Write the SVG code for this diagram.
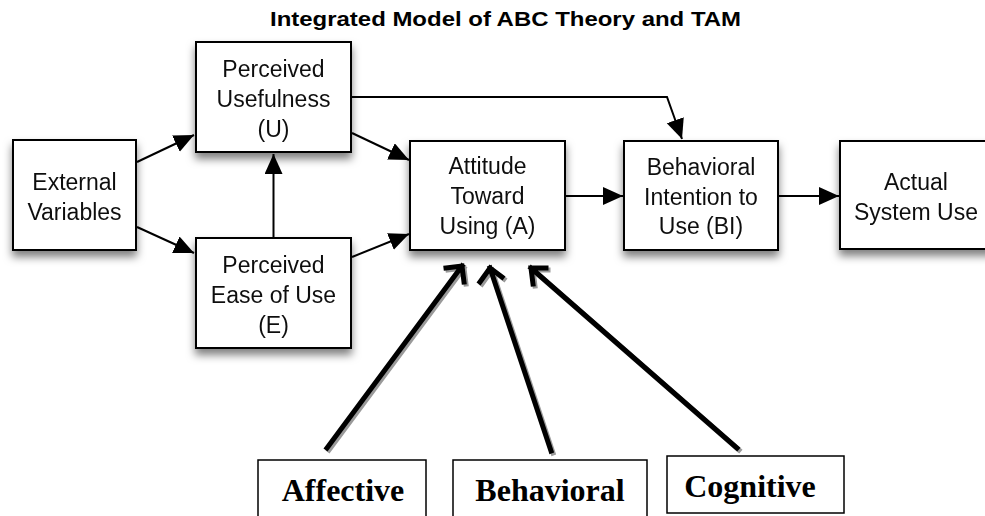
<svg xmlns="http://www.w3.org/2000/svg" width="985" height="516" viewBox="0 0 985 516">
  <style>
    .title { font-family: "Liberation Sans", Arial, sans-serif; font-weight: bold; font-size: 20px; fill: #000; }
    .box { fill: #fff; stroke: #000; stroke-width: 2; }
    .lbl { font-family: "Liberation Sans", Arial, Helvetica, sans-serif; font-size: 23px; fill: #111; text-anchor: middle; }
    .abc { fill: #fff; stroke: #000; stroke-width: 1.5; }
    .abc-lbl { font-family: "Liberation Serif", "Times New Roman", serif; font-weight: bold; font-size: 32px; fill: #000; text-anchor: middle; }
    .link { fill: none; stroke: #000; stroke-width: 2; marker-end: url(#tri); }
    .thick { fill: none; stroke: #000; stroke-width: 5; stroke-linecap: square; stroke-linejoin: miter; }
    .thick-shadow { fill: none; stroke: #9a9a9a; stroke-width: 5; stroke-linecap: square; stroke-linejoin: miter; }
  </style>
  <defs>
    <filter id="shadow" x="-20%" y="-20%" width="140%" height="160%">
      <feDropShadow dx="0" dy="6" stdDeviation="4.5" flood-color="#000" flood-opacity="0.5"/>
    </filter>
    <marker id="tri" markerUnits="userSpaceOnUse" markerWidth="22" markerHeight="20" refX="20" refY="9" orient="auto">
      <path d="M0,0 L20,9 L0,18 Z" fill="#000"/>
    </marker>
  </defs>

  <rect width="985" height="516" fill="#fff"/>

  <text class="title" x="270" y="26" textLength="471" lengthAdjust="spacingAndGlyphs">Integrated Model of ABC Theory and TAM</text>

  <!-- TAM constructs -->
  <g id="external-variables" filter="url(#shadow)">
    <rect class="box" x="13" y="140" width="123" height="110"/>
    <text class="lbl" x="74.5" y="190">External</text>
    <text class="lbl" x="74.5" y="220">Variables</text>
  </g>
  <g id="perceived-usefulness" filter="url(#shadow)">
    <rect class="box" x="196" y="42" width="155" height="110"/>
    <text class="lbl" x="273.5" y="77">Perceived</text>
    <text class="lbl" x="273.5" y="107">Usefulness</text>
    <text class="lbl" x="273.5" y="137">(U)</text>
  </g>
  <g id="perceived-ease-of-use" filter="url(#shadow)">
    <rect class="box" x="196" y="238" width="155" height="110"/>
    <text class="lbl" x="273.5" y="273">Perceived</text>
    <text class="lbl" x="273.5" y="303">Ease of Use</text>
    <text class="lbl" x="273.5" y="333">(E)</text>
  </g>
  <g id="attitude" filter="url(#shadow)">
    <rect class="box" x="410" y="141" width="155" height="109"/>
    <text class="lbl" x="487.5" y="174">Attitude</text>
    <text class="lbl" x="487.5" y="204">Toward</text>
    <text class="lbl" x="487.5" y="234">Using (A)</text>
  </g>
  <g id="behavioral-intention" filter="url(#shadow)">
    <rect class="box" x="624" y="141" width="154" height="109"/>
    <text class="lbl" x="701" y="175">Behavioral</text>
    <text class="lbl" x="701" y="205">Intention to</text>
    <text class="lbl" x="701" y="234">Use (BI)</text>
  </g>
  <g id="actual-system-use" filter="url(#shadow)">
    <rect class="box" x="840" y="141" width="160" height="108"/>
    <text class="lbl" x="916" y="190">Actual</text>
    <text class="lbl" x="916" y="220">System Use</text>
  </g>

  <!-- ABC components -->
  <g id="affective">
    <rect class="abc" x="258" y="460" width="168" height="60"/>
    <text class="abc-lbl" x="343" y="501">Affective</text>
  </g>
  <g id="behavioral">
    <rect class="abc" x="453" y="460" width="194" height="60"/>
    <text class="abc-lbl" x="550" y="501">Behavioral</text>
  </g>
  <g id="cognitive">
    <rect class="abc" x="667" y="456" width="177" height="57"/>
    <text class="abc-lbl" x="750" y="497">Cognitive</text>
  </g>

  <!-- connectors -->
  <g id="connectors">
    <line class="link" x1="137" y1="162" x2="194" y2="135"/>
    <line class="link" x1="137" y1="227" x2="194" y2="253"/>
    <line class="link" x1="273.5" y1="238" x2="273.5" y2="154"/>
    <line class="link" x1="352" y1="133" x2="409" y2="160"/>
    <line class="link" x1="352" y1="257" x2="409" y2="234"/>
    <line class="link" x1="565" y1="196" x2="623" y2="196"/>
    <line class="link" x1="778" y1="196" x2="839" y2="196"/>
    <polyline class="link" points="351,97 667,97 682,139"/>

    <!-- heavy arrows from the ABC components, with offset shadow -->
    <g transform="translate(2,2)">
      <path class="thick-shadow" d="M327,448 L462,266 M446,268 L462,266 L464,282"/>
      <path class="thick-shadow" d="M551,451 L490,268 M480,282 L490,268 L502,277"/>
      <path class="thick-shadow" d="M737,448 L531,268 M533,284 L531,268 L546,268"/>
    </g>
    <path class="thick" d="M327,448 L462,266 M446,268 L462,266 L464,282"/>
    <path class="thick" d="M551,451 L490,268 M480,282 L490,268 L502,277"/>
    <path class="thick" d="M737,448 L531,268 M533,284 L531,268 L546,268"/>
  </g>
</svg>
